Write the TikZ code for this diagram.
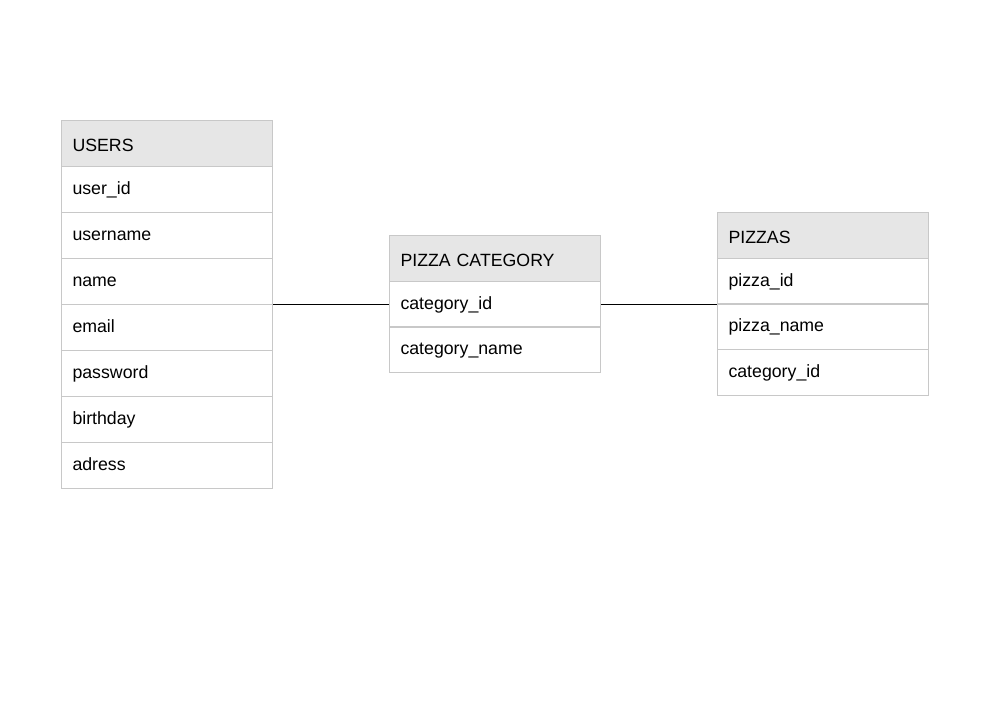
\documentclass[tikz,border=0pt]{standalone}
\usepackage{fontspec}
\setmainfont{Liberation Sans}
\begin{document}
\begin{tikzpicture}[x=0.75pt,y=-0.75pt,
  cell/.style={draw=cellborder, line width=0.75pt, anchor=north west,
    minimum width=158.25pt, minimum height=34.5pt, text width=141.75pt,
    text height=10pt, text depth=2pt,
    inner xsep=8.25pt, inner ysep=0pt, align=left, font=\fontsize{13.3pt}{16pt}\selectfont},
  head/.style={cell, fill=headfill, text height=12.5pt, text depth=0pt},
  link/.style={draw=black, line width=0.9pt}]
\definecolor{cellborder}{HTML}{C8C8C8}
\definecolor{headfill}{HTML}{E6E6E6}
\useasboundingbox (0,0) rectangle (1004,702);
\fill[white] (0,0) rectangle (1004,702);
% USERS
\node[head] (uh) at (61,120) {USERS};
\node[cell] (u1) at (61,166) {user\_id};
\node[cell] (u2) at (61,212) {username};
\node[cell] (u3) at (61,258) {name};
\node[cell] (u4) at (61,304) {email};
\node[cell] (u5) at (61,350) {password};
\node[cell] (u6) at (61,396) {birthday};
\node[cell] (u7) at (61,442) {adress};
% PIZZA CATEGORY
\node[head] (ch) at (389,235) {PIZZA CATEGORY};
\node[cell] (c1) at (389,281) {category\_id};
\node[cell] (c2) at (389,326) {category\_name};
% PIZZAS
\node[head] (ph) at (717,212) {PIZZAS};
\node[cell] (p1) at (717,258) {pizza\_id};
\node[cell] (p2) at (717,303) {pizza\_name};
\node[cell] (p3) at (717,349) {category\_id};
% connectors
\draw[link] (c1.west -| u3.east) -- (c1.west);
\draw[link] (c1.east) -- (c1.east -| p2.west);
\end{tikzpicture}
\end{document}
